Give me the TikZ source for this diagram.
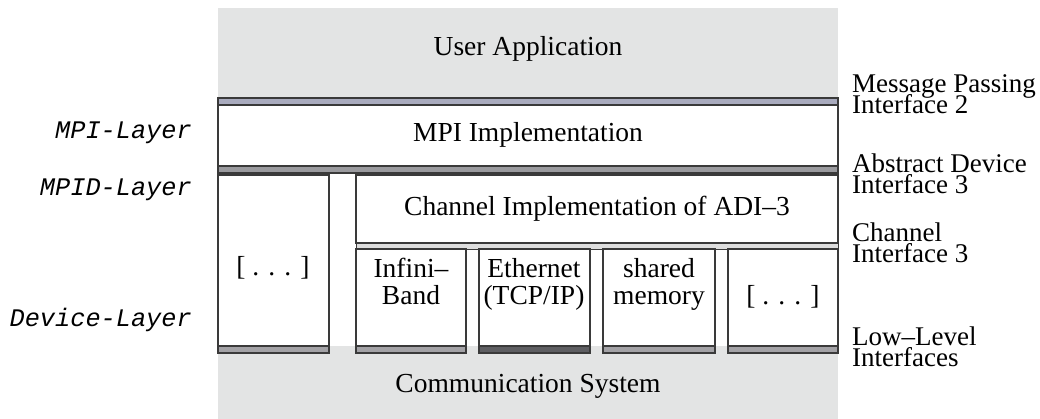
\documentclass[tikz,border=0pt]{standalone}
\usepackage{fontspec}
\setmainfont{Liberation Serif}
\setmonofont{Liberation Mono}
\definecolor{bggray}{HTML}{E3E4E4}
\definecolor{blueband}{HTML}{A9ABBE}
\definecolor{grayband}{HTML}{9A9A9E}
\definecolor{lightband}{HTML}{DEDEDE}
\definecolor{lowband}{HTML}{A3A2A6}
\definecolor{ethband}{HTML}{5E5E62}
\definecolor{edge}{HTML}{3A3A3A}
\tikzset{
  body/.style={font=\fontsize{27.5}{28}\selectfont, inner sep=0pt, anchor=base},
  iface/.style={font=\fontsize{27}{21}\selectfont, inner sep=0pt, anchor=base west},
  layer/.style={font=\fontsize{25.3}{27}\selectfont\ttfamily\itshape, inner sep=0pt, anchor=base east},
  box/.style={draw=edge, line width=1.3pt, fill=white},
  band/.style={draw=edge, line width=1.3pt},
}
\begin{document}
\begin{tikzpicture}[x=1pt,y=-1pt]
\useasboundingbox (0,0) rectangle (1040,419);
% background
\fill[bggray] (218,8) rectangle (838,419);
\fill[white] (218,98) rectangle (838,346);
% MPI layer
\draw[band, fill=blueband] (218,98) rectangle (838,105);
\draw[box] (218,105) rectangle (838,166);
\draw[band, fill=grayband] (218,166) rectangle (838,173);
% MPID layer
\draw[box] (218,175) rectangle (329,346);
\draw[box] (356,175) rectangle (838,243);
\draw[band, line width=0.8pt, fill=lightband] (356,243) rectangle (838,249);
% device boxes
\draw[box] (356,249) rectangle (466,346);
\draw[box] (479,249) rectangle (590,346);
\draw[box] (603,249) rectangle (715,346);
\draw[box] (728,249) rectangle (838,346);
% low-level bands
\draw[band, fill=lowband] (218,346) rectangle (329,353);
\draw[band, fill=lowband] (356,346) rectangle (466,353);
\draw[band, fill=ethband] (479,346) rectangle (590,353);
\draw[band, fill=lowband] (603,346) rectangle (715,353);
\draw[band, fill=lowband] (728,346) rectangle (838,353);
% texts
\node[body] (ua) at (528,56) {User Application};
\node[body] (mpi) at (528,142) {MPI Implementation};
\node[body] (ch) at (597,216) {Channel Implementation of ADI–3};
\node[body] (dl) at (273,276) {[ . . . ]};
\node[body] (ib1) at (411,277) {Infini–};
\node[body] (ib2) at (411,304) {Band};
\node[body] (et1) at (534,277) {Ethernet};
\node[body] (et2) at (534,304) {(TCP/IP)};
\node[body] (sm1) at (659,277) {shared};
\node[body] (sm2) at (659,304) {memory};
\node[body] (dr) at (783,304) {[ . . . ]};
\node[body] (cs) at (528,392) {Communication System};
% interface labels
\node[iface] (mp1) at (852,93) {Message Passing};
\node[iface] (mp2) at (852,114) {Interface 2};
\node[iface] (ad1) at (852,173) {Abstract Device};
\node[iface] (ad2) at (852,194) {Interface 3};
\node[iface] (ci1) at (852,242) {Channel};
\node[iface] (ci2) at (852,263) {Interface 3};
\node[iface] (ll1) at (852,345) {Low–Level};
\node[iface] (ll2) at (852,366) {Interfaces};
% layer labels
\node[layer] (l1) at (192,139) {MPI-Layer};
\node[layer] (l2) at (192,196) {MPID-Layer};
\node[layer] (l3) at (192,326) {Device-Layer};
\end{tikzpicture}
\end{document}
